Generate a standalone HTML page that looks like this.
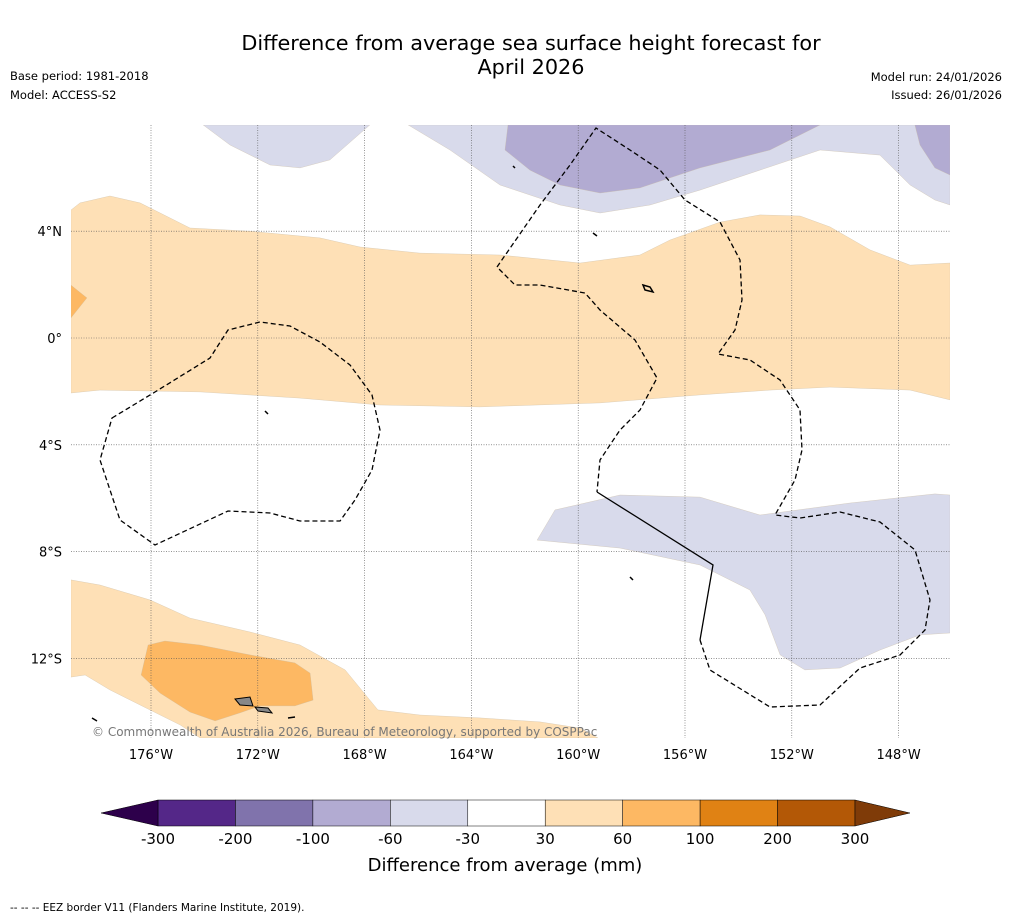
<!DOCTYPE html>
<html><head><meta charset="utf-8"><style>
body{margin:0;background:#fff;font-family:"DejaVu Sans","Liberation Sans",sans-serif;}
svg{display:block}
</style></head><body>
<svg id="chart" width="1011" height="919" viewBox="0 0 1011 919" xmlns="http://www.w3.org/2000/svg">
<rect width="1011" height="919" fill="#fff"/>
<text x="531" y="50" font-size="20.8" text-anchor="middle">Difference from average sea surface height forecast for</text>
<text x="531" y="74" font-size="20.8" text-anchor="middle">April 2026</text>
<text x="10" y="80" font-size="11.5">Base period: 1981-2018</text>
<text x="10" y="99" font-size="11.5">Model: ACCESS-S2</text>
<text x="1002" y="81" font-size="11.5" text-anchor="end">Model run: 24/01/2026</text>
<text x="1002" y="99" font-size="11.5" text-anchor="end">Issued: 26/01/2026</text>
<clipPath id="mapclip"><rect x="71" y="125" width="879" height="613"/></clipPath>
<g id="map" clip-path="url(#mapclip)"></g>
<g id="grid"></g>
<g id="eez" clip-path="url(#mapclip)">
<path d="M112,418 L155,392 L210,358 L228,330 L260,322 L290,326 L320,342 L350,365 L372,395 L380,430 L372,470 L355,500 L340,521 L300,521 L270,513 L228,511 L155,545 L120,520 L100,460 Z" fill="none" stroke="#000" stroke-width="1.3" stroke-dasharray="5,3"/>
<path d="M700,640 L710,670 L770,707 L820,705 L860,668 L900,655 L925,630 L930,600 L915,550 L880,522 L840,512 L800,518 L775,515 L795,480 L802,450 L800,410 L780,380 L750,360 L718,354 L735,330 L742,300 L740,260 L720,222 L685,200 L660,170 L630,150 L596,128 L570,165 L540,205 L497,267 L515,285 L540,285 L585,293 L600,310 L635,340 L657,378 L640,410 L620,430 L600,460 L597,492" fill="none" stroke="#000" stroke-width="1.3" stroke-dasharray="5,3"/>
<path d="M597,492 L713,565 L700,640" fill="none" stroke="#000" stroke-width="1.3"/>
<path d="M235,699 L250,697 L253,706 L240,705 Z M255,707 L268,708 L272,713 L258,711 Z" fill="#888" stroke="#000" stroke-width="1"/>
<path d="M643,285 L650,287 L653,292 L645,290 Z M593,233 L597,236 M513,166 L515,168 M265,411 L268,414 M92,718 L97,721 M288,718 L295,717 M630,577 L633,580" fill="none" stroke="#000" stroke-width="1.5"/>
</g>
<text x="92" y="736" font-size="12" fill="#777">© Commonwealth of Australia 2026, Bureau of Meteorology, supported by COSPPac</text>
<g id="axes"></g>
<g id="cbar"></g>
<text x="505" y="871" font-size="18" text-anchor="middle">Difference from average (mm)</text>
<text x="10" y="911" font-size="10.5">--  --  -- EEZ border V11 (Flanders Marine Institute, 2019).</text>
<script>
const lonTicks=[-176,-172,-168,-164,-160,-156,-152,-148];
const lonLabels=["176°W","172°W","168°W","164°W","160°W","156°W","152°W","148°W"];
const latTicks=[4,0,-4,-8,-12];
const latLabels=["4°N","0°","4°S","8°S","12°S"];
const levels=[-300,-200,-100,-60,-30,30,60,100,200,300];
const levelColors=["#542788","#8073ac","#b2abd2","#d8daeb","#ffffff","#fee0b6","#fdb863","#e08214","#b35806"];
const extendColors=["#2d004b","#7f3b08"];
const contourLevels=["#fee0b6","#fdb863","#d8daeb","#d8daeb","#b2abd2","#b2abd2","#d8daeb","#fee0b6","#fdb863"];
const contourLon=[
[-179,-178.66,-177.54,-176.41,-174.54,-172.29,-169.67,-168.17,-165.93,-162.93,-159.93,-157.69,-156.56,-154.69,-153.19,-151.69,-150.57,-149.07,-147.57,-146.07,-146.07,-147.57,-150.57,-152.82,-155.44,-159.18,-163.68,-167.43,-170.42,-174.16,-177.91,-179],
[-179,-178.4,-179],
[-174.05,-173.04,-171.54,-170.42,-169.30,-167.8],
[-166.37,-164.8,-162.93,-160.68,-159.18,-157.31,-155.44,-153.19,-150.94,-148.7,-147.57,-146.64,-146.07,-146.07],
[-162.63,-162.74,-161.81,-160.68,-159.18,-157.69,-155.44,-152.82,-150.94],
[-147.39,-147.2,-146.64,-146.07,-146.07],
[-161.54,-160.87,-158.43,-155.44,-153.19,-149.82,-146.64,-146.07,-146.07,-147.2,-148.7,-150.19,-151.51,-152.44,-153.0,-153.57,-155.44,-158.43],
[-179,-177.91,-176.04,-174.54,-172.29,-170.42,-168.73,-167.5,-165.93,-163.68,-161.43,-159.93,-159.26,-174.16,-174.91,-176.04,-177.54,-178.47,-179],
[-176.11,-175.48,-174.16,-172.29,-170.61,-170.04,-169.93,-170.61,-171.92,-172.67,-173.6,-174.54,-175.66,-176.37]];
const contourLat=[
[4.79,5.06,5.32,5.06,4.12,4.0,3.75,3.41,3.18,3.11,2.81,3.11,3.67,4.34,4.61,4.57,4.16,3.30,2.73,2.81,-2.32,-1.95,-1.84,-1.95,-2.13,-2.43,-2.58,-2.51,-2.25,-2.02,-1.95,-2.06],
[1.98,1.5,0.75],
[7.98,7.23,6.48,6.37,6.67,7.98],
[7.98,7.04,5.73,4.98,4.68,4.98,5.54,6.29,7.04,6.85,5.73,5.17,4.98,7.98],
[7.98,7.04,6.29,5.73,5.43,5.62,6.37,7.04,7.98],
[7.98,7.23,6.37,6.1,7.98],
[-7.57,-6.44,-5.88,-5.96,-6.63,-6.18,-5.84,-5.88,-11.05,-11.12,-11.69,-12.36,-12.43,-11.87,-10.37,-9.44,-8.5,-7.87],
[-9.06,-9.25,-9.81,-10.49,-11.01,-11.5,-12.43,-13.93,-14.12,-14.23,-14.38,-14.61,-14.98,-14.98,-14.49,-13.93,-13.18,-12.62,-12.70],
[-11.5,-11.35,-11.5,-11.87,-12.17,-12.55,-13.56,-13.78,-13.78,-14.04,-14.34,-14.01,-13.3,-12.62]];
const NS="http://www.w3.org/2000/svg";
const xOf=lon=>151+(lon+176)*26.7;
const yOf=lat=>338-lat*26.7;
function mk(tag,attrs,parent){const e=document.createElementNS(NS,tag);for(const k in attrs)e.setAttribute(k,attrs[k]);parent.appendChild(e);return e;}
const map=document.getElementById('map');
contourLon.forEach((lons,i)=>{
 const pts=lons.map((lo,j)=>xOf(lo).toFixed(1)+','+yOf(contourLat[i][j]).toFixed(1)).join(' ');
 const p=mk('polygon',{points:pts,fill:contourLevels[i],stroke:'#c8b8a0','stroke-width':0.3},map);
 
 
});
const grid=document.getElementById('grid'),axes=document.getElementById('axes');
lonTicks.forEach((lo,i)=>{
 const l=mk('line',{x1:xOf(lo),x2:xOf(lo),y1:125,y2:738,stroke:'#555','stroke-width':0.6,'stroke-dasharray':'1,1.5'},grid);
 
 
 const t=mk('text',{x:xOf(lo),y:759,'font-size':13,'text-anchor':'middle'},axes);
 t.textContent=lonLabels[i];
 
 
});
latTicks.forEach((la,i)=>{
 const l=mk('line',{x1:71,x2:950,y1:yOf(la),y2:yOf(la),stroke:'#555','stroke-width':0.6,'stroke-dasharray':'1,1.5'},grid);
 
 
 const t=mk('text',{x:62,y:yOf(la)+5,'font-size':13,'text-anchor':'end'},axes);
 t.textContent=latLabels[i];
 
 
});
const cb=document.getElementById('cbar');
const cx0=158,cw=697,cy=800,ch=26;
const cX=i=>cx0+i*cw/(levels.length-1);
levelColors.forEach((c,i)=>{
 const r=mk('rect',{x:cX(i),y:cy,width:cw/(levels.length-1),height:ch,fill:c,stroke:'#000','stroke-width':0.5},cb);
 
 
});
const lo=mk('polygon',{points:`${cx0},${cy} ${cx0},${cy+ch} 101,${cy+ch/2}`,fill:extendColors[0],stroke:'#000','stroke-width':0.5},cb);


const hi=mk('polygon',{points:`${cx0+cw},${cy} ${cx0+cw},${cy+ch} 910,${cy+ch/2}`,fill:extendColors[1],stroke:'#000','stroke-width':0.5},cb);


levels.forEach((v,i)=>{
 const t=mk('text',{x:cX(i),y:844,'font-size':15,'text-anchor':'middle'},cb);
 t.textContent=v;
 
 
});
</script>
</svg>
</body></html>
